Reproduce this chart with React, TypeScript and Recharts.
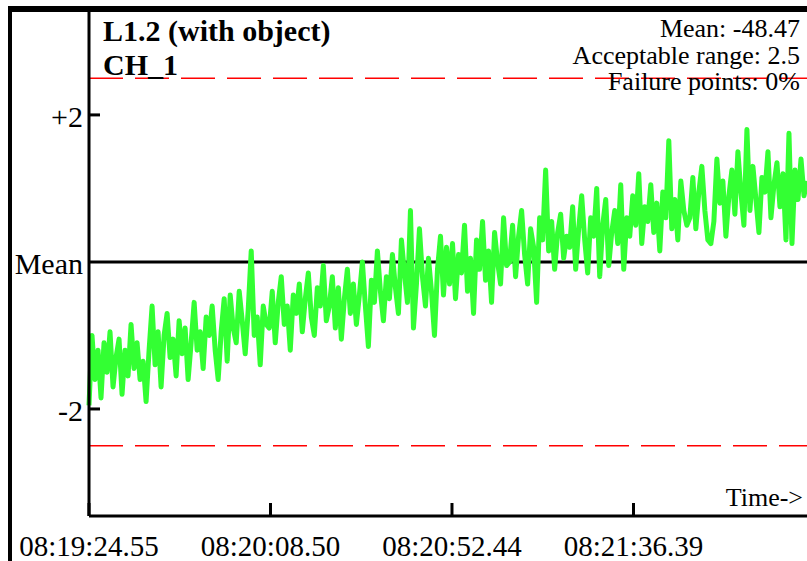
import { LineChart, Line, XAxis, YAxis, ReferenceLine } from 'recharts'

// deviation from mean (units of the y axis)
const values = [
    -1.95, -1.0, -1.6, -1.2, -1.85, -1.1, -1.5, -0.95, -1.7, -1.3, -1.05, -1.8, -1.2, -1.55, -0.85, -1.45, -1.1, -1.6, -1.35, -1.9,
    -1.2, -0.6, -1.4, -0.95, -1.7, -1.0, -0.7, -1.3, -1.05, -1.55, -0.8, -1.25, -0.9, -1.6, -1.1, -0.55, -1.2, -0.95, -1.45, -0.75,
    -1.0, -0.6, -1.2, -1.6, -0.95, -0.5, -1.35, -0.45, -0.9, -1.1, -0.4, -0.8, -1.25, -0.65, 0.15, -1.0, -0.75, -1.4, -0.6, -0.85,
    -0.9, -0.4, -1.1, -0.55, -0.2, -0.85, -0.6, -1.2, -0.45, -0.7, -0.3, -0.95, -0.5, -0.15, -0.75, -1.0, -0.35, -0.6, -0.05, -0.8,
    -0.6, -0.2, -0.9, -0.35, -1.05, -0.5, -0.1, -0.7, -0.3, -0.85, -0.45, 0.0, -0.6, -1.15, -0.25, -0.55, 0.15, -0.4, -0.8, -0.2,
    -0.5, 0.1, -0.35, -0.7, 0.3, -0.15, -0.55, 0.7, -0.9, -0.3, 0.45, -0.2, -0.6, 0.05, -0.4, -1.0, -0.1, 0.35, -0.45, 0.2,
    -0.3, 0.25, -0.5, 0.1, -0.15, 0.5, -0.4, 0.05, -0.7, 0.3, -0.1, 0.55, -0.25, 0.15, -0.55, 0.4, 0.0, -0.3, 0.6, -0.05,
    0.0, 0.5, -0.2, 0.35, 0.7, 0.1, -0.3, 0.45, 0.2, -0.55, 0.6, 0.3, 1.25, 0.15, 0.55, -0.1, 0.4, 0.65, 0.05, 0.35,
    0.2, 0.75, -0.1, 0.45, 0.9, 0.3, -0.15, 0.6, 0.35, 1.0, -0.2, 0.5, 0.85, -0.05, 0.4, 0.7, 0.25, 1.05, -0.1, 0.6,
    0.35, 0.9, 0.5, 1.2, 0.25, 0.75, 0.55, 1.05, 0.4, 0.8, 0.15, 0.95, 0.6, 1.65, 0.45, 0.85, 0.3, 1.1, 0.7, 0.5,
    0.6, 1.15, 0.45, 0.95, 1.3, 0.7, 0.3, 0.25, 0.55, 1.4, 0.8, 1.1, 0.35, 0.9, 1.25, 0.65, 1.5, 0.95, 0.5, 1.8,
    0.7, 1.3, 0.85, 0.4, 1.15, 0.95, 1.5, 0.6, 1.05, 1.35, 0.75, 1.2, 0.3, 1.75, 0.25, 1.25, 0.85, 1.4, 0.9, 1.1,
]

const spanSeconds = 173.85
const tickSeconds = [0, 43.95, 87.89, 131.84]
const tickLabels = ['08:19:24.55', '08:20:08.50', '08:20:52.44', '08:21:36.39']
const yTicks = [-2, 0, 2]
const yLabels = ['-2', 'Mean', '+2']
const acceptable = 2.5
const statLines = ['Mean: -48.47', 'Acceptable range: 2.5', 'Failure points: 0%']

const data = values.map((v, i) => ({ t: (i * spanSeconds) / (values.length - 1), v }))

const FONT = '"Liberation Serif", "Times New Roman", serif'

function XTick({ x, y, payload }: any) {
    const idx = tickSeconds.indexOf(payload.value)
    return (
        <g>
            <line x1={x} y1={y} x2={x} y2={y - 13} stroke="#000" strokeWidth={3} />
            <text x={x} y={y + 40} textAnchor="middle" fontFamily={FONT} fontSize={29} fill="#000">
                {tickLabels[idx]}
            </text>
        </g>
    )
}

function YTick({ x, y, payload }: any) {
    const idx = yTicks.indexOf(payload.value)
    return (
        <g>
            {payload.value !== 0 && <line x1={x} y1={y} x2={x + 11} y2={y} stroke="#000" strokeWidth={3} />}
            <text x={x - 6} y={y + 12} textAnchor="end" fontFamily={FONT} fontSize={30} fill="#000">
                {yLabels[idx]}
            </text>
        </g>
    )
}

export default function App() {
    return (
        <div style={{ position: 'absolute', left: 0, top: 0, width: 807, height: 561, background: '#fff' }}>
            <LineChart width={807} height={561} data={data} margin={{ top: 12, right: 0, bottom: 44, left: 88 }}>
                <XAxis
                    dataKey="t"
                    type="number"
                    domain={[0, spanSeconds]}
                    ticks={tickSeconds}
                    height={1}
                    tickSize={0}
                    tickMargin={0}
                    tickLine={false}
                    axisLine={{ stroke: '#000', strokeWidth: 3 }}
                    tick={XTick}
                    interval={0}
                />
                <YAxis
                    type="number"
                    domain={[-3.456, 3.4]}
                    allowDataOverflow
                    ticks={yTicks}
                    width={1}
                    tickSize={0}
                    tickMargin={0}
                    tickLine={false}
                    axisLine={{ stroke: '#000', strokeWidth: 3 }}
                    tick={YTick}
                    interval={0}
                />
                <ReferenceLine y={acceptable} stroke="#ff0000" strokeWidth={1.5} strokeDasharray="34 12" />
                <ReferenceLine y={-acceptable} stroke="#ff0000" strokeWidth={1.5} strokeDasharray="34 12" />
                <ReferenceLine y={0} stroke="#000" strokeWidth={3} />
                <Line
                    type="linear"
                    dataKey="v"
                    stroke="#33ff33"
                    strokeWidth={5}
                    strokeLinejoin="round"
                    dot={false}
                    isAnimationActive={false}
                />
            </LineChart>
            <svg width={807} height={561} style={{ position: 'absolute', left: 0, top: 0, pointerEvents: 'none' }}>
                <rect x={8} y={6} width={799} height={6} fill="#000" />
                <rect x={8} y={6} width={4} height={555} fill="#000" />
                <text x={103} y={41} fontFamily={FONT} fontSize={30} fontWeight="bold" fill="#000">L1.2 (with object)</text>
                <text x={103} y={75} fontFamily={FONT} fontSize={30} fontWeight="bold" fill="#000">CH_1</text>
                {statLines.map((s, i) => (
                    <text key={s} x={800} y={37 + i * 26.5} textAnchor="end" fontFamily={FONT} fontSize={26} fill="#000">
                        {s}
                    </text>
                ))}
                <text x={803} y={506} textAnchor="end" fontFamily={FONT} fontSize={26} fill="#000">Time-&gt;</text>
            </svg>
        </div>
    )
}
